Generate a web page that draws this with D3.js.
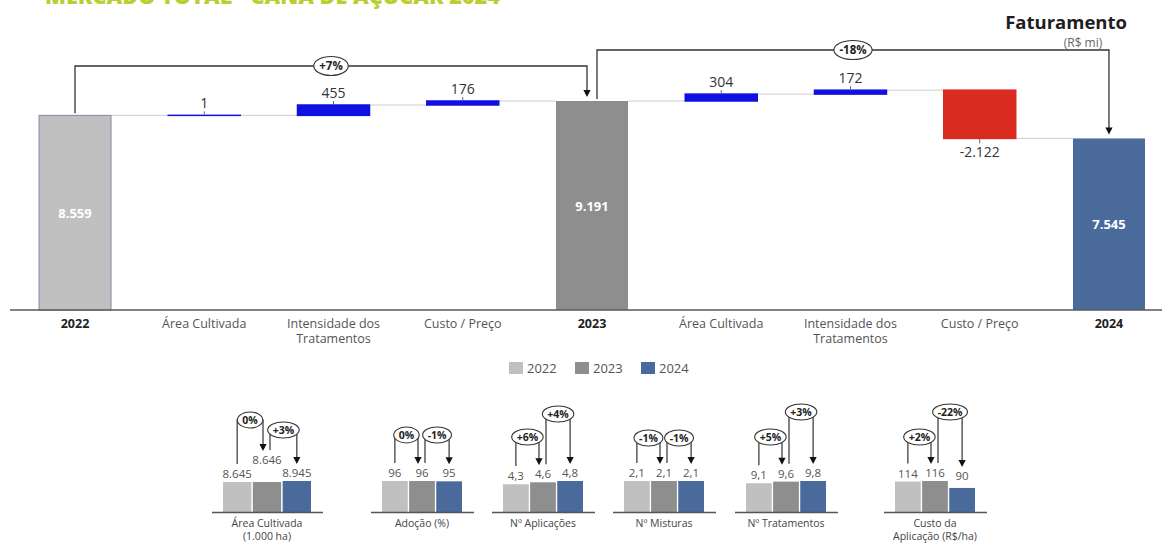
<!DOCTYPE html>
<html>
<head>
<meta charset="utf-8">
<script src="https://cdn.jsdelivr.net/npm/d3@7"></script>
<style>
  html, body { margin: 0; padding: 0; background: #fff; }
  svg { display: block; font-family: "Open Sans", "Noto Sans", sans-serif; }
</style>
</head>
<body>
<svg id="chart" width="1172" height="547"></svg>
<script>
// ---- Revenue bridge (R$ mi) ----
const steps = ["2022", "Área Cultivada", "Intensidade dos|Tratamentos", "Custo / Preço", "2023",
               "Área Cultivada", "Intensidade dos|Tratamentos", "Custo / Preço", "2024"];
const stepKinds = ["total", "delta", "delta", "delta", "total", "delta", "delta", "delta", "total"];
const stepValues = [8559, 1, 455, 176, 9191, 304, 172, -2122, 7545];
const bridgePairs = [[0, 4], [4, 8]];
const bridgeChanges = ["+7%", "-18%"];

// ---- Driver panels ----
const years = ["2022", "2023", "2024"];
const driverNames = [["Área Cultivada", "(1.000 ha)"], ["Adoção (%)"], ["Nº Aplicações"],
                     ["Nº Misturas"], ["Nº Tratamentos"], ["Custo da", "Aplicação (R$/ha)"]];
const driverValues = [[8645, 8646, 8945], [96, 96, 95], [4.3, 4.6, 4.8],
                      [2.1, 2.1, 2.1], [9.1, 9.6, 9.8], [114, 116, 90]];
const driverDecimals = [0, 0, 1, 1, 1, 0];
const driverChanges = [["0%", "+3%"], ["0%", "-1%"], ["+6%", "+4%"],
                       ["-1%", "-1%"], ["+5%", "+3%"], ["+2%", "-22%"]];

// ---- Layout ----
const panelCenters = [267, 422, 543, 664, 786, 935];
const panelHalfWidths = [44, 40, 40, 40, 40, 40];
const changeLevels = [[420, 430], [435, 435], [437, 414], [438, 438], [437, 412], [437, 412]];
const raisedLabel = [[0, 14, 0], [0, 0, 0], [0, 0, 0], [0, 0, 0], [0, 0, 0], [0, 0, 0]];
const bridgeLevels = [66, 50];

const yearColors = { "2022": "#c0c0c0", "2023": "#8e8e8e", "2024": "#4a6a9b" };
const upColor = "#1010e2", downColor = "#d92b1f";
const ink = "#333";

const br = d3.formatLocale({ decimal: ",", thousands: ".", grouping: [3], currency: ["R$", ""], minus: "-" });
const fmtInt = br.format(",.0f");

const svg = d3.select("#chart");

// Title (runs off the top edge)
svg.append("text")
  .attr("x", 45).attr("y", 4)
  .attr("font-size", 21).attr("font-weight", 800)
  .attr("fill", "#bccd32")
  .attr("textLength", 455).attr("lengthAdjust", "spacingAndGlyphs")
  .text("MERCADO TOTAL - CANA DE AÇÚCAR 2024");

// Heading
svg.append("text").attr("x", 1127).attr("y", 29).attr("text-anchor", "end")
  .attr("font-size", 18.5).attr("font-weight", 700).attr("fill", "#1e1e1e").text("Faturamento");
svg.append("text").attr("x", 1083).attr("y", 47).attr("text-anchor", "middle")
  .attr("font-size", 12).attr("fill", "#666").text("(R$ mi)");

// ---- Waterfall ----
const x = d3.scaleBand().domain(d3.range(steps.length)).range([10.4, 1173.6])
  .paddingInner(0.443).paddingOuter(0.2215);
const y = d3.scaleLinear().domain([0, 9191]).range([310, 101]);
const bw = x.bandwidth();

let running = 0;
const bars = steps.map((s, i) => {
  const v = stepValues[i];
  let lo, hi;
  if (stepKinds[i] === "total") { lo = 0; hi = v; running = v; }
  else { lo = running; hi = running + v; running = hi; }
  return { i, v, kind: stepKinds[i], from: lo, to: hi, level: running };
});

const wf = svg.append("g");

// connectors between consecutive bars
wf.selectAll("line.conn").data(bars.slice(0, -1)).join("line")
  .attr("x1", d => x(d.i) + bw).attr("x2", d => x(d.i + 1))
  .attr("y1", d => y(d.level)).attr("y2", d => y(d.level))
  .attr("stroke", "#cfcfcf").attr("stroke-width", 1);

wf.selectAll("rect.bar").data(bars).join("rect")
  .attr("x", d => x(d.i))
  .attr("width", bw)
  .attr("y", d => y(Math.max(d.from, d.to)))
  .attr("height", d => Math.abs(y(d.from) - y(d.to)))
  .attr("fill", d => d.kind === "total" ? yearColors[steps[d.i]] : (d.v >= 0 ? upColor : downColor))
  .attr("stroke", d => d.kind === "total" ? (steps[d.i] === "2022" ? "#7f8ba3" : "none") : (d.v >= 0 ? upColor : downColor))
  .attr("stroke-width", d => d.kind === "total" ? 1 : 1.5);

// total values inside bars
wf.selectAll("text.tot").data(bars.filter(d => d.kind === "total")).join("text")
  .attr("x", d => x(d.i) + bw / 2)
  .attr("y", d => (y(0) + y(d.v)) / 2 + 5)
  .attr("text-anchor", "middle").attr("font-size", 13).attr("font-weight", 700)
  .attr("fill", "#fff").text(d => fmtInt(d.v));

// delta values outside bars
const deltas = bars.filter(d => d.kind === "delta");
wf.selectAll("text.dl").data(deltas).join("text")
  .attr("x", d => x(d.i) + bw / 2)
  .attr("y", d => d.v >= 0 ? y(d.to) - 7 : y(d.to) + 19)
  .attr("text-anchor", "middle").attr("font-size", 14).attr("fill", ink)
  .text(d => fmtInt(d.v));
wf.selectAll("line.tick").data(deltas).join("line")
  .attr("x1", d => x(d.i) + bw / 2).attr("x2", d => x(d.i) + bw / 2)
  .attr("y1", d => d.v >= 0 ? y(d.to) - 1 : y(d.to))
  .attr("y2", d => d.v >= 0 ? y(d.to) - 4 : y(d.to) + 5)
  .attr("stroke", "#666").attr("stroke-width", 1);

// axis
wf.append("line").attr("x1", 10).attr("x2", 1162).attr("y1", 310).attr("y2", 310)
  .attr("stroke", "#5a5a5a").attr("stroke-width", 1.6);
steps.forEach((s, i) => {
  const lines = s.split("|");
  const t = wf.append("text").attr("text-anchor", "middle")
    .attr("font-size", 12.5)
    .attr("font-weight", stepKinds[i] === "total" ? 700 : 400)
    .attr("fill", stepKinds[i] === "total" ? "#222" : "#555");
  lines.forEach((ln, k) => {
    t.append("tspan").attr("x", x(i) + bw / 2).attr("y", 328 + k * 15).text(ln);
  });
});

// bracket helper: line from (x1,y1) up to level, across, down to arrow tip at (x2,y2)
function bracket(g, x1, y1, x2, y2, level, label, fs, ry, pad, lw) {
  const head = 7, hw = 3.6;
  g.append("path")
    .attr("d", `M${x1},${y1}V${level}H${x2}V${y2 - head + 1}`)
    .attr("fill", "none").attr("stroke", ink).attr("stroke-width", lw);
  g.append("path")
    .attr("d", `M${x2 - hw},${y2 - head}L${x2 + hw},${y2 - head}L${x2},${y2}Z`)
    .attr("fill", "#111");
  const cx = (x1 + x2) / 2;
  const el = g.append("ellipse").attr("cx", cx).attr("cy", level)
    .attr("fill", "#fff").attr("stroke", ink).attr("stroke-width", 1.1);
  const t = g.append("text").attr("x", cx).attr("y", level + fs * 0.36)
    .attr("text-anchor", "middle").attr("font-size", fs).attr("font-weight", 700)
    .attr("fill", "#222").text(label);
  const w = t.node().getComputedTextLength();
  el.attr("rx", w / 2 + pad).attr("ry", ry);
}

const brG = svg.append("g");
bridgePairs.forEach(([a, b], k) => {
  const xa = x(a) + bw / 2 + (k === 0 ? 0 : 5);
  const xb = x(b) + bw / 2 - (k === 0 ? 5 : 0);
  bracket(brG, xa, y(stepValues[a]) - 2, xb, y(stepValues[b]) - 4,
          bridgeLevels[k], bridgeChanges[k], 11.5, 9.5, 5.5, 1.3);
});

// ---- Legend ----
const legX = [509, 575, 641];
const leg = svg.append("g");
years.forEach((yr, k) => {
  leg.append("rect").attr("x", legX[k]).attr("y", 362).attr("width", 14).attr("height", 12)
    .attr("fill", yearColors[yr]);
  leg.append("text").attr("x", legX[k] + 18).attr("y", 373)
    .attr("font-size", 13).attr("fill", "#555").text(yr);
});

// ---- Driver panels ----
const baseY = 512, topY = 481;
driverValues.forEach((vals, p) => {
  const g = svg.append("g");
  const cx = panelCenters[p], hw = panelHalfWidths[p];
  const px = d3.scaleBand().domain(years).range([cx - hw, cx + hw]).paddingInner(0.05);
  const py = d3.scaleLinear().domain([0, d3.max(vals)]).range([baseY, topY]);
  const fmt = br.format(driverDecimals[p] ? ",.1f" : ",.0f");
  const pb = px.bandwidth();

  g.selectAll("rect").data(years).join("rect")
    .attr("x", d => px(d)).attr("width", pb)
    .attr("y", (d, k) => py(vals[k])).attr("height", (d, k) => baseY - py(vals[k]))
    .attr("fill", d => yearColors[d]);

  g.append("line").attr("x1", cx - hw - 11).attr("x2", cx + hw + 12)
    .attr("y1", baseY + 0.5).attr("y2", baseY + 0.5)
    .attr("stroke", "#555").attr("stroke-width", 1.4);

  const labelBase = years.map((d, k) => Math.min(py(vals[k]), topY + 3) - 4 - raisedLabel[p][k]);
  g.selectAll("text.v").data(years).join("text")
    .attr("x", d => px(d) + pb / 2)
    .attr("y", (d, k) => labelBase[k])
    .attr("text-anchor", "middle").attr("font-size", 11.5).attr("fill", "#555")
    .text((d, k) => fmt(vals[k]));

  // year-over-year change brackets
  const c = years.map(d => px(d) + pb / 2);
  bracket(g, c[0], labelBase[0] - 14, c[1] - 4, labelBase[1] - 13,
          changeLevels[p][0], driverChanges[p][0], 10.5, 8, 5, 1.2);
  bracket(g, c[1] + 3, labelBase[1] - 14, c[2], labelBase[2] - 13,
          changeLevels[p][1], driverChanges[p][1], 10.5, 8, 5, 1.2);

  const t = g.append("text").attr("text-anchor", "middle").attr("font-size", 10.5).attr("fill", "#444");
  driverNames[p].forEach((ln, k) => {
    t.append("tspan").attr("x", cx).attr("y", 527 + k * 13).text(ln);
  });
});
</script>
</body>
</html>
